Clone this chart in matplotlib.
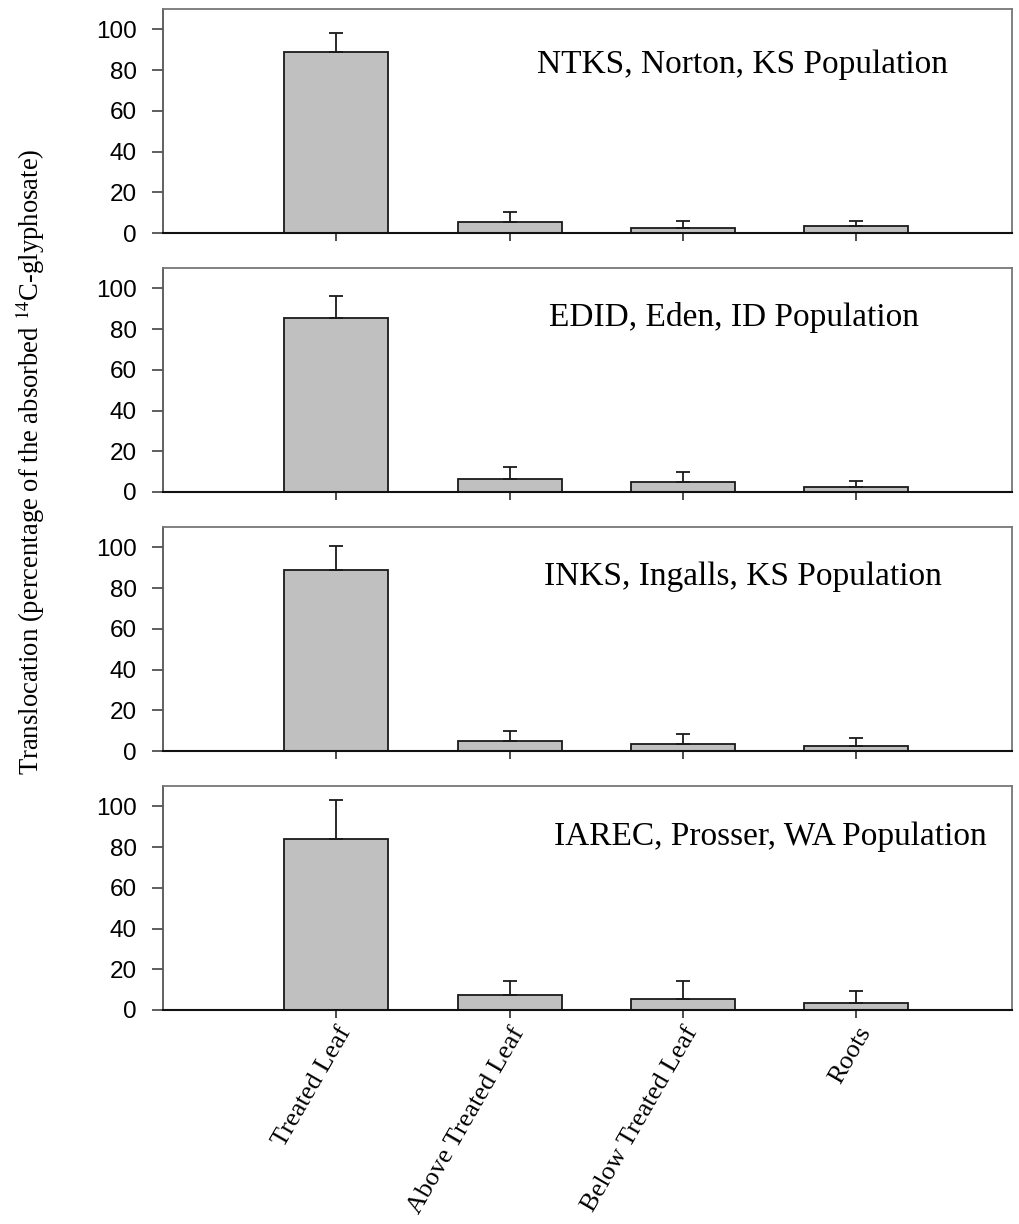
import numpy as np
import matplotlib
matplotlib.use('Agg')
import matplotlib.pyplot as plt

plt.rcParams['mathtext.fontset'] = 'stix'

# data (mean and upper error)
categories = ['Treated Leaf', 'Above Treated Leaf', 'Below Treated Leaf', 'Roots']
populations = ['NTKS, Norton, KS Population',
               'EDID, Eden, ID Population',
               'INKS, Ingalls, KS Population',
               'IAREC, Prosser, WA Population']

ntks_mean = [88.7, 5.2, 2.6, 3.3]
ntks_err = [9.5, 5.2, 3.1, 2.7]
edid_mean = [85.4, 6.2, 5.1, 2.6]
edid_err = [11.0, 5.9, 4.7, 2.6]
inks_mean = [89.0, 5.1, 3.3, 2.6]
inks_err = [11.9, 4.7, 5.0, 3.8]
iarec_mean = [83.8, 7.2, 5.4, 3.6]
iarec_err = [19.5, 6.8, 8.7, 5.6]

means = [ntks_mean, edid_mean, inks_mean, iarec_mean]
errs = [ntks_err, edid_err, inks_err, iarec_err]

yticks = [0, 20, 40, 60, 80, 100]

# layout (pixels of the 1020x1224 output)
W, H = 1020, 1224
left_px, right_px = 163, 1012
bottoms_px = [233, 492, 751, 1010]
panel_h = 224
label_x = [0.683, 0.672, 0.683, 0.715]
label_y = [0.75, 0.777, 0.777, 0.772]

fig = plt.figure(figsize=(10.2, 12.24), dpi=100)
x = np.arange(len(categories))

for i in range(4):
    ax = fig.add_axes([left_px / W, 1 - bottoms_px[i] / H,
                       (right_px - left_px) / W, panel_h / H])
    ax.bar(x, means[i], width=0.6, color='#c0c0c0', edgecolor='#1a1a1a',
           linewidth=1.3, zorder=2)
    ax.errorbar(x, means[i], yerr=[np.zeros(4), errs[i]], fmt='none',
                ecolor='#1a1a1a', elinewidth=1.3, capsize=5, capthick=1.3, zorder=3)
    ax.set_xlim(-1.0, 3.9)
    ax.set_ylim(0, 110)
    ax.set_yticks(yticks)
    ax.set_xticks(x)
    ax.tick_params(axis='y', direction='out', length=8, width=1.1, pad=11,
                   labelsize=17.5, color='#333333')
    ax.tick_params(axis='x', direction='out', length=6, width=1.1, color='#1a1a1a')
    for lab in ax.get_yticklabels():
        lab.set_fontfamily('Liberation Sans')
    for side in ['top', 'right']:
        ax.spines[side].set_color('#777777')
        ax.spines[side].set_linewidth(1.3)
    ax.spines['left'].set_color('#555555')
    ax.spines['left'].set_linewidth(1.3)
    ax.spines['bottom'].set_color('#111111')
    ax.spines['bottom'].set_linewidth(1.5)
    ax.text(label_x[i], label_y[i], populations[i], transform=ax.transAxes,
            ha='center', va='center', fontsize=24, family='Liberation Serif')
    if i < 3:
        ax.set_xticklabels([])
    else:
        ax.set_xticklabels(categories, rotation=60, ha='right', va='top',
                           rotation_mode='anchor', fontsize=19,
                           family='Liberation Serif')

fig.text(30 / W, 1 - 462 / H,
         'Translocation (percentage of the absorbed $^{\\mathrm{14}}$C-glyphosate)',
         rotation=90, ha='center', va='center', fontsize=19.2,
         family='Liberation Serif')

plt.savefig('out.png', dpi=100)
